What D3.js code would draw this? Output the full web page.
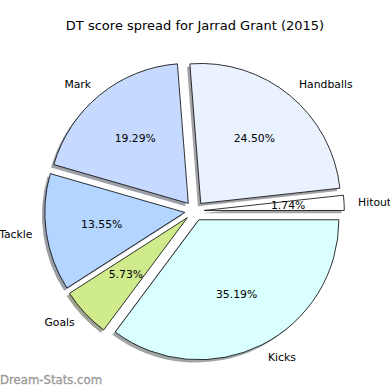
<!DOCTYPE html>
<html>
<head>
<meta charset="utf-8">
<script src="https://cdn.jsdelivr.net/npm/d3@7"></script>
<style>
  html, body { margin: 0; padding: 0; background: #fff; }
  svg { display: block; }
  text { font-family: "DejaVu Sans", sans-serif; }
</style>
</head>
<body>
<script>
// ---- data ----
const categories = ["Hitout", "Handballs", "Mark", "Tackle", "Goals", "Kicks"];
const values = [1.74, 24.50, 19.29, 13.55, 5.73, 35.19];
const colors = ["#ffffff", "#eaf1ff", "#c6d9ff", "#b4d5ff", "#cfeb8c", "#d9ffff"];
const explode = [0.07, 0.07, 0.07, 0.07, 0.07, 0.07];
const title = "DT score spread for Jarrad Grant (2015)";
const watermark = "Dream-Stats.com";

const W = 390, H = 390;
const cx = 194.5, cy = 211;
const rScale = d3.scaleLinear().domain([0, 1]).range([0, 140]);

const svg = d3.select("body").append("svg")
  .attr("width", W).attr("height", H);

// matplotlib-style: start at east, counter-clockwise
const pie = d3.pie().sort(null).value(d => d.v)
  .startAngle(Math.PI / 2).endAngle(Math.PI / 2 - 2 * Math.PI);
const data = categories.map((c, i) => ({ c, v: values[i], col: colors[i], ex: explode[i] }));
const arcs = pie(data);
const arc = d3.arc().innerRadius(0).outerRadius(rScale(1));

arcs.forEach(a => {
  const m = (a.startAngle + a.endAngle) / 2;
  a.mid = m;
  a.ox = rScale(a.data.ex) * Math.sin(m);
  a.oy = -rScale(a.data.ex) * Math.cos(m);
});

const g = svg.append("g").attr("transform", `translate(${cx},${cy})`);

// shadows
const sh = rScale(0.02);
g.selectAll("path.shadow").data(arcs).enter().append("path")
  .attr("class", "shadow")
  .attr("d", arc)
  .attr("transform", d => `translate(${d.ox - sh},${d.oy + sh})`)
  .attr("fill", d => { const c = d3.rgb(d.data.col); return d3.rgb(c.r * 0.3, c.g * 0.3, c.b * 0.3); })
  .attr("fill-opacity", 0.5)
  .attr("stroke", "none");

// wedges
g.selectAll("path.wedge").data(arcs).enter().append("path")
  .attr("class", "wedge")
  .attr("d", arc)
  .attr("transform", d => `translate(${d.ox},${d.oy})`)
  .attr("fill", d => d.data.col)
  .attr("stroke", "#000")
  .attr("stroke-width", 0.8)
  .attr("stroke-linejoin", "miter");

// category labels
g.selectAll("text.lbl").data(arcs).enter().append("text")
  .attr("class", "lbl")
  .attr("x", d => d.ox + rScale(1.1) * Math.sin(d.mid))
  .attr("y", d => d.oy - rScale(1.1) * Math.cos(d.mid))
  .attr("text-anchor", d => Math.sin(d.mid) > 0 ? "start" : "end")
  .attr("dominant-baseline", "central")
  .attr("font-size", "10.8px")
  .attr("fill", "#000")
  .text(d => d.data.c);

// percentage labels
g.selectAll("text.pct").data(arcs).enter().append("text")
  .attr("class", "pct")
  .attr("x", d => d.ox + rScale(0.6) * Math.sin(d.mid))
  .attr("y", d => d.oy - rScale(0.6) * Math.cos(d.mid))
  .attr("text-anchor", "middle")
  .attr("dominant-baseline", "central")
  .attr("font-size", "10.8px")
  .attr("fill", "#000")
  .text(d => d.data.v.toFixed(2) + "%");

// title
svg.append("text")
  .attr("x", 195).attr("y", 30)
  .attr("text-anchor", "middle")
  .attr("font-size", "13px")
  .attr("fill", "#000")
  .text(title);

// watermark
svg.append("text")
  .attr("x", 0).attr("y", 384)
  .attr("font-size", "11.7px")
  .attr("fill", "#999999")
  .attr("stroke", "#999999")
  .attr("stroke-width", 0.3)
  .text(watermark);
</script>
</body>
</html>
